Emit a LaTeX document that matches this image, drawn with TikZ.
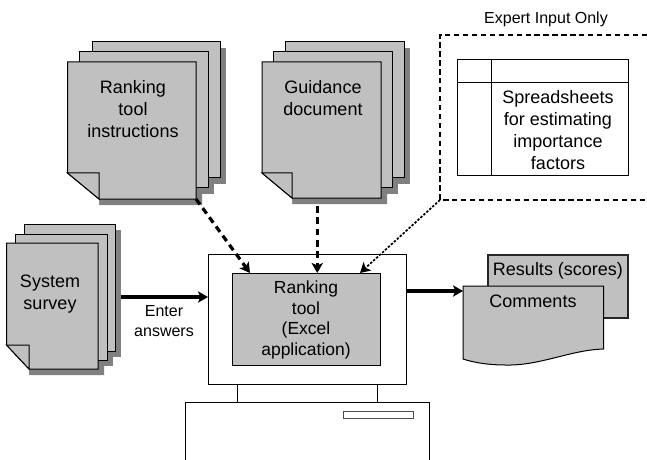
\documentclass[tikz,border=0pt]{standalone}
\usepackage{fontspec}
\setmainfont{Liberation Sans}
\usetikzlibrary{arrows.meta,calc}
\definecolor{sheetgray}{HTML}{C0C0C0}
\definecolor{shadowgray}{HTML}{808080}
\newcommand{\shad}[4]{\fill[shadowgray] (#1+6,#2+6) rectangle (#3+6,#4+6);}
\newcommand{\sheetbox}[4]{\draw[paper] (#1,#2) rectangle (#3,#4);}
\newcommand{\frontsheet}[7]{%
  \fill[white] (#2-1,#6) -- (#7,#5) -- (#7,#5+12) -- (#2-1,#5+12) -- cycle;
  \node[anchorbox, minimum width={(#4-#2)*0.75pt}, minimum height={(#5-#3)*0.75pt}] (#1) at (#2,#3) {};
  \draw[paper] (#2,#3) -- (#4,#3) -- (#4,#5) -- (#7,#5) -- (#2,#6) -- cycle;
  \draw[paper] (#2,#6) -- (#7,#6) -- (#7,#5) -- cycle;}
\tikzset{
  paper/.style={draw=black, fill=sheetgray, line width=0.75pt, line join=miter},
  anchorbox/.style={anchor=north west, inner sep=0pt, outer sep=0pt, rectangle},
  plain/.style={draw=black, line width=0.75pt},
  label18/.style={align=center, inner sep=0pt, font=\fontsize{13.5}{16.5}\selectfont},
  labelscreen/.style={align=center, inner sep=0pt, font=\fontsize{13.1}{15.6}\selectfont},
  label16/.style={align=center, inner sep=0pt, font=\fontsize{12}{15}\selectfont},
  tip/.style={-{Stealth[length=7.5pt,width=8.5pt,inset=1.8pt]}},
  solidflow/.style={tip, line width=2.4pt},
  dashflow/.style={tip, line width=2.4pt, dash pattern=on 5pt off 3.5pt},
  dotflow/.style={tip, line width=1.3pt, dash pattern=on 1.8pt off 1.2pt},
  expertbox/.style={line width=2.2pt, dash pattern=on 4pt off 2.7pt}
}
\begin{document}
\begin{tikzpicture}[x=0.75pt,y=-0.75pt]
\useasboundingbox (0,0) rectangle (647,460);
% instructions stack
\shad{92}{42}{220}{178}\shad{79}{52}{208}{188}
\fill[shadowgray] (99,205) -- (202,205) -- (202,68) -- (190,68) -- (190,190) -- (99,190) -- cycle;
\sheetbox{92}{42}{220}{178}\sheetbox{79}{52}{208}{188}
\frontsheet{instr}{67.5}{62}{196}{199}{173}{99}
\node[label18] (instrtext) at (133,109) {Ranking\\tool\\instructions};
% guidance stack
\shad{285}{42}{404}{178}\shad{273}{52}{392}{188}
\fill[shadowgray] (292,204) -- (387,204) -- (387,68) -- (375,68) -- (375,190) -- (292,190) -- cycle;
\sheetbox{285}{42}{404}{178}\sheetbox{273}{52}{392}{188}
\frontsheet{guid}{262}{62}{381}{198}{173}{292}
\node[label18] (guidtext) at (323,98) {Guidance\\document};
% survey stack
\shad{24}{224}{115}{351}\shad{15}{234}{107}{360}
\fill[shadowgray] (29,375) -- (104,375) -- (104,249) -- (90,249) -- (90,360) -- (29,360) -- cycle;
\sheetbox{24}{224}{115}{351}\sheetbox{15}{234}{107}{360}
\frontsheet{surv}{6.5}{243}{98}{369}{345}{29}
\node[label18] (survtext) at (50,294) {System\\survey};
% computer
\node[anchorbox, plain, fill=white, minimum width={198*0.75pt}, minimum height={130*0.75pt}] (monitor) at (208,254) {};
\node[anchorbox, plain, fill=sheetgray, minimum width={148.5*0.75pt}, minimum height={92*0.75pt}] (screen) at (232,273) {};
\node[labelscreen] (screentext) at (306,320) {Ranking\\tool\\(Excel\\application)};
\node[anchorbox, plain, fill=white, minimum width={140*0.75pt}, minimum height={18*0.75pt}] (neck) at (237,384) {};
\draw[plain] (185.5,460) -- (185.5,402) -- (429,402) -- (429,460);
\node[anchorbox, draw=black!70, line width=0.75pt, minimum width={70*0.75pt}, minimum height={7*0.75pt}] (slot) at (343,411) {};
% expert box
\coordinate (expertcorner) at (440,200);
\draw[expertbox] (647,35) -- (440,35) -- (expertcorner) -- (647,200);
\node[label16] (experttext) at (546,19) {Expert Input Only};
\node[anchorbox, plain, minimum width={171*0.75pt}, minimum height={116*0.75pt}] (sheet) at (457,60) {};
\draw[plain] (457,83) -- (628,83) (491,60) -- (491,176);
\node[label18, font=\fontsize{13.5}{16.3}\selectfont] (sheettext) at (558,130) {Spreadsheets\\for estimating\\importance\\factors};
% outputs
\draw[paper, draw=black!85, line width=1pt] (488,255) -- (628,255) -- (628,318) -- (488,318) -- cycle;
\node[label18] (resultstext) at (558,271) {Results (scores)};
\node[anchorbox, minimum width={140*0.75pt}, minimum height={79*0.75pt}] (comments) at (463,286) {};
\draw[paper] (463,286) -- (603.5,286) -- (603.5,349) .. controls (570,350) and (540,366) .. (505,365) .. controls (490,365) and (475,363) .. (463,359) -- cycle;
\node[label18] (commentstext) at (533,301) {Comments};
% connectors
\draw[dashflow] (instr.south east) -- ($(screen.north west)+(18,0)$);
\draw[dashflow] (guid.south -| screen.north) ++(11,8) -- ($(screen.north)+(11,0)$);
\draw[dotflow] (expertcorner) -- ($(screen.north east)+(-20.5,0)$);
\draw[solidflow] ($(surv.east)+(23,-9)$) -- (monitor.west |- 0,297);
\draw[solidflow] (monitor.east |- 0,291) -- (comments.west |- 0,291);
\node[label16] (entertext) at (164,321) {Enter\\answers};
\end{tikzpicture}
\end{document}
